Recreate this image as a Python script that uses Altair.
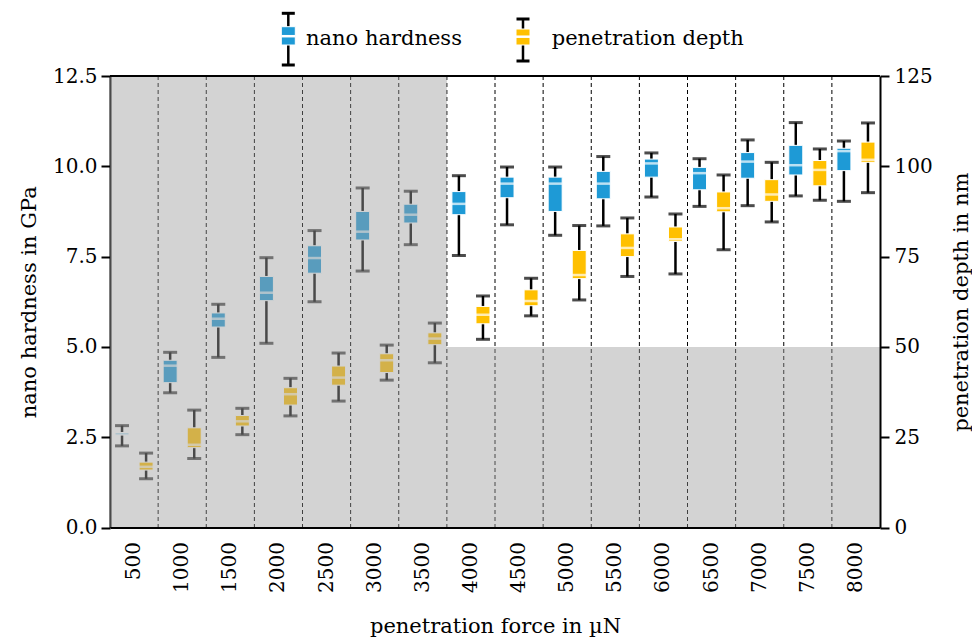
import altair as alt
import pandas as pd

# ---------------- data ----------------
forces = ["500", "1000", "1500", "2000", "2500", "3000", "3500", "4000",
          "4500", "5000", "5500", "6000", "6500", "7000", "7500", "8000"]

# nano hardness in GPa: whisker low, Q1, median, Q3, whisker high
h_lo  = [2.26, 3.73, 4.71, 5.10, 6.25, 7.10, 7.83, 7.53, 8.38, 8.09, 8.35, 9.15, 8.89, 8.91, 9.18, 9.03]
h_q1  = [2.56, 4.01, 5.55, 6.28, 7.04, 7.96, 8.43, 8.66, 9.13, 8.75, 9.10, 9.70, 9.35, 9.67, 9.76, 9.88]
h_med = [2.59, 4.48, 5.78, 6.50, 7.46, 8.19, 8.66, 8.96, 9.52, 9.52, 9.52, 10.08, 9.81, 10.13, 10.03, 10.42]
h_q3  = [2.63, 4.63, 5.94, 6.95, 7.80, 8.75, 8.95, 9.30, 9.70, 9.70, 9.86, 10.20, 9.97, 10.38, 10.58, 10.50]
h_hi  = [2.82, 4.85, 6.18, 7.47, 8.22, 9.40, 9.31, 9.74, 9.98, 9.98, 10.27, 10.37, 10.21, 10.73, 11.21, 10.70]

# penetration depth in nm
d_lo  = [13.5, 19.1, 25.7, 30.9, 35.0, 40.8, 45.6, 52.1, 58.6, 63.0, 69.5, 70.2, 76.9, 84.6, 90.6, 92.7]
d_q1  = [15.9, 22.1, 28.1, 33.9, 39.4, 42.9, 50.6, 56.4, 61.4, 68.9, 75.0, 79.2, 87.4, 90.3, 94.6, 101.1]
d_med = [16.8, 22.9, 29.4, 36.9, 41.5, 46.3, 52.3, 58.9, 62.7, 69.9, 77.4, 79.8, 88.4, 92.2, 99.0, 101.8]
d_q3  = [18.1, 27.6, 31.0, 38.7, 44.7, 48.1, 53.9, 61.2, 65.8, 76.7, 81.3, 83.2, 92.9, 96.3, 101.6, 106.7]
d_hi  = [20.6, 32.5, 33.0, 41.3, 48.3, 50.5, 56.6, 64.1, 69.0, 83.6, 85.7, 86.8, 97.6, 101.1, 104.8, 112.0]

series = ["nano hardness", "penetration depth"]
hard_ticks = [0, 2.5, 5, 7.5, 10, 12.5]
depth_ticks = [0, 25, 50, 75, 100, 125]

# shaded regions (in hardness units): forces up to 3500 fully, below 5.0 GPa everywhere
shade_forces_full = forces[:7]
shade_limit = 5.0
hard_max = 12.5

# ---------------- styling ----------------
FONT = "DejaVu Serif"
W, H = 770, 451.5
BLUE = "#1e9ad6"
YELLOW = "#ffc000"

hard = pd.DataFrame({"force": forces, "series": series[0],
                     "lo": h_lo, "q1": h_q1, "med": h_med, "q3": h_q3, "hi": h_hi})
depth = pd.DataFrame({"force": forces, "series": series[1],
                      "lo": d_lo, "q1": d_q1, "med": d_med, "q3": d_q3, "hi": d_hi})

shade = pd.DataFrame({
    "force": shade_forces_full + forces,
    "lo": [shade_limit] * len(shade_forces_full) + [0] * len(forces),
    "hi": [hard_max] * len(shade_forces_full) + [shade_limit] * len(forces),
})

x_scale = alt.Scale(type="band", domain=forces, paddingInner=0, paddingOuter=0)
x_axis = alt.Axis(title="penetration force in µN", labelAngle=-90, ticks=False,
                  labelPadding=14, domainWidth=2, domainColor="black", zindex=1,
                  titleY=99, titleBaseline="middle")


def X(**kw):
    return alt.X("force:N", sort=forces, scale=x_scale, axis=x_axis, **kw)


xoff = alt.XOffset("series:N", scale=alt.Scale(domain=series, paddingInner=0, paddingOuter=0))


def boxes(df, color, yscale, yaxis):
    base = alt.Chart(df).encode(x=X(), xOffset=xoff)

    def Y(f):
        return alt.Y(f"{f}:Q", scale=yscale, axis=yaxis)

    whisker = base.mark_rule(color="black", strokeWidth=2.5).encode(y=Y("lo"), y2="hi:Q")
    cap_lo = base.mark_tick(color="black", thickness=3, size=14).encode(y=Y("lo"))
    cap_hi = base.mark_tick(color="black", thickness=3, size=14).encode(y=Y("hi"))
    box = base.mark_bar(width=14, color=color, stroke="white", strokeWidth=1).encode(y=Y("q1"), y2="q3:Q")
    median = base.mark_tick(color="white", thickness=2.5, size=14).encode(y=Y("med"))
    return alt.layer(whisker, cap_lo, cap_hi, box, median)


left_axis = alt.Axis(title="nano hardness in GPa", values=hard_ticks, format=".1f", orient="left",
                     tickSize=9, tickWidth=2, tickColor="black", domainColor="black", domainWidth=2,
                     labelPadding=4, grid=False, titleX=-81, titleY=H / 2, titleAngle=-90,
                     titleAlign="center", titleBaseline="middle", zindex=0)
right_axis = alt.Axis(title="penetration depth in nm", values=depth_ticks, format="d", orient="right",
                      tickSize=9, tickWidth=2, tickColor="black", domainColor="black", domainWidth=2,
                      labelPadding=5, grid=False, titleX=81, titleY=H / 2, titleAngle=-90,
                      titleAlign="center", titleBaseline="middle", zindex=1)

hard_layer = boxes(hard, BLUE, alt.Scale(domain=[0, 12.5], nice=False, zero=True), left_axis)
depth_layer = boxes(depth, YELLOW, alt.Scale(domain=[0, 125], nice=False, zero=True), right_axis)

separators = alt.Chart(pd.DataFrame({"force": forces[1:]})).mark_rule(
    color="black", strokeWidth=1, strokeDash=[4, 3]
).encode(x=X(bandPosition=0), y=alt.value(0), y2=alt.value(H))

overlay = alt.Chart(shade).mark_bar(color="#a0a0a0", opacity=0.46).encode(
    x=X(),
    y=alt.Y("lo:Q", scale=alt.Scale(domain=[0, 12.5], nice=False), axis=None),
    y2="hi:Q",
)

top_border = alt.Chart(pd.DataFrame({"a": [0]})).mark_rule(color="black", strokeWidth=2).encode(
    x=alt.value(0), x2=alt.value(W), y=alt.value(0)
)


def legend_item(label, color, cx, cap_top, cap_bot, box_top, box_bot, med_y, tx, ty):
    d = pd.DataFrame({"label": [label]})
    b = alt.Chart(d)
    return [
        b.mark_rule(color="black", strokeWidth=2.5).encode(
            x=alt.value(cx), y=alt.value(cap_top), y2=alt.value(cap_bot)),
        b.mark_rule(color="black", strokeWidth=3).encode(
            x=alt.value(cx - 6.5), x2=alt.value(cx + 6.5), y=alt.value(cap_top)),
        b.mark_rule(color="black", strokeWidth=3).encode(
            x=alt.value(cx - 6.5), x2=alt.value(cx + 6.5), y=alt.value(cap_bot)),
        b.mark_rect(color=color, stroke="white", strokeWidth=1).encode(
            x=alt.value(cx - 7), x2=alt.value(cx + 7), y=alt.value(box_top), y2=alt.value(box_bot)),
        b.mark_rule(color="white", strokeWidth=2.5).encode(
            x=alt.value(cx - 7), x2=alt.value(cx + 7), y=alt.value(med_y)),
        b.mark_text(align="left", baseline="alphabetic", font=FONT, fontSize=21, color="black").encode(
            x=alt.value(tx), y=alt.value(ty), text="label:N"),
    ]


legend = (legend_item(series[0], BLUE, 178.3, -62.7, -11, -49.3, -31, -39.8, 196, -31)
          + legend_item(series[1], YELLOW, 413, -57, -15, -47, -31, -39.3, 441.7, -31))

chart = alt.layer(
    separators, hard_layer, depth_layer, overlay, top_border, *legend
).resolve_scale(y="independent").properties(
    width=W, height=H,
    padding={"left": 102, "top": 68, "right": 92, "bottom": 115},
    autosize=alt.AutoSizeParams(type="none"),
).configure_view(stroke=None).configure_axis(
    labelFont=FONT, titleFont=FONT, labelFontSize=20, titleFontSize=21,
    titleFontWeight="normal", labelColor="black", titleColor="black", grid=False,
)

chart.save("out.html", embed_options={"renderer": "svg", "actions": False})
